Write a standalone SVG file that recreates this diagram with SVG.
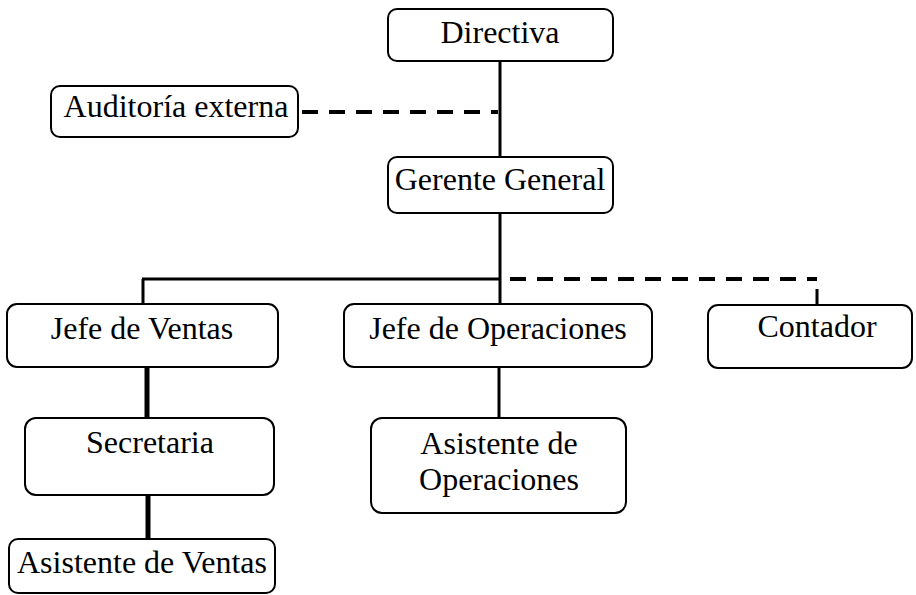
<svg xmlns="http://www.w3.org/2000/svg" width="916" height="595" viewBox="0 0 916 595">
<style>
.box{fill:#fff;stroke:#000;stroke-width:2}
.t{font-family:"Liberation Serif","Times New Roman",serif;font-size:32px;fill:#000;text-anchor:middle}
.ln{stroke:#000;stroke-width:3;fill:none}
.thick{stroke:#000;stroke-width:5;fill:none}
.dash{stroke:#000;stroke-width:4;fill:none;stroke-dasharray:16 11}
</style>
<rect width="916" height="595" fill="#fff"/>
<g id="connectors">
<line class="ln" x1="500" y1="61" x2="500" y2="157"/>
<line class="dash" x1="302" y1="112" x2="498" y2="112"/>
<line class="ln" x1="500" y1="213" x2="500" y2="304"/>
<line class="ln" x1="142" y1="279" x2="501" y2="279"/>
<line class="ln" x1="143" y1="279" x2="143" y2="304"/>
<line class="dash" x1="510" y1="279" x2="817" y2="279"/>
<line class="ln" x1="817" y1="289" x2="817" y2="305"/>
<line class="thick" x1="147" y1="367" x2="147" y2="418"/>
<line class="thick" x1="148" y1="495" x2="148" y2="539"/>
<line class="ln" x1="499" y1="367" x2="499" y2="418"/>
</g>
<g id="directiva">
<rect class="box" x="388" y="9" width="225" height="52" rx="9"/>
<text class="t" x="500" y="43">Directiva</text>
</g>
<g id="auditoria">
<rect class="box" x="51" y="86" width="247" height="51" rx="9"/>
<text class="t" x="176" y="117">Auditoría externa</text>
</g>
<g id="gerente">
<rect class="box" x="388" y="157" width="225" height="56" rx="9"/>
<text class="t" x="500" y="190">Gerente General</text>
</g>
<g id="jefe-ventas">
<rect class="box" x="7" y="304" width="271" height="63" rx="10"/>
<text class="t" x="142" y="339">Jefe de Ventas</text>
</g>
<g id="jefe-operaciones">
<rect class="box" x="344" y="304" width="308" height="63" rx="10"/>
<text class="t" x="498" y="339">Jefe de Operaciones</text>
</g>
<g id="contador">
<rect class="box" x="708" y="305" width="204" height="63" rx="10"/>
<text class="t" x="817" y="337">Contador</text>
</g>
<g id="secretaria">
<rect class="box" x="25" y="418" width="249" height="77" rx="11"/>
<text class="t" x="150" y="453">Secretaria</text>
</g>
<g id="asistente-operaciones">
<rect class="box" x="371" y="418" width="255" height="95" rx="11"/>
<text class="t" x="499" y="454">Asistente de</text>
<text class="t" x="499" y="490">Operaciones</text>
</g>
<g id="asistente-ventas">
<rect class="box" x="9" y="539" width="266" height="54" rx="9"/>
<text class="t" x="142" y="573">Asistente de Ventas</text>
</g>
</svg>
